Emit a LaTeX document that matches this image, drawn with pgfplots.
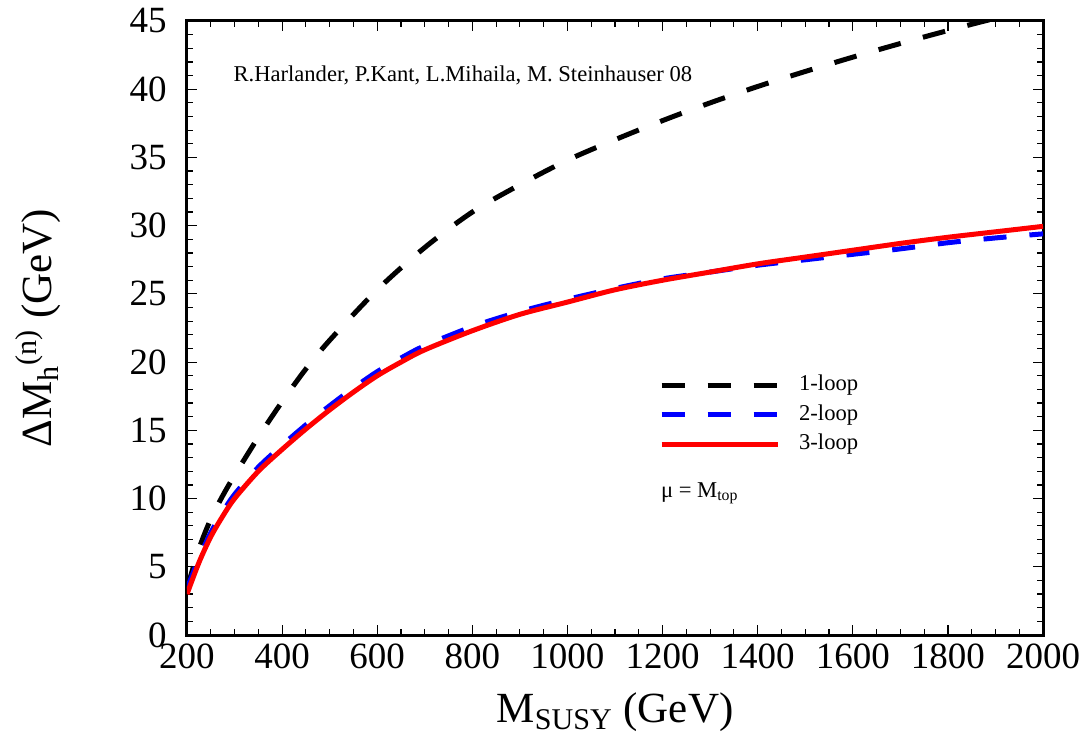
\documentclass[border=0pt]{standalone}
\usepackage{fontspec}
\setmainfont{Liberation Serif}
\usepackage{pgfplots}
\pgfplotsset{compat=1.18}
\begin{document}
\begin{tikzpicture}
\begin{axis}[
  scale only axis, width=428pt, height=307pt,
  xmin=200, xmax=2000, ymin=0, ymax=45,
  xtick={200,400,...,2000}, ytick={0,5,...,45},
  minor x tick num=3, minor y tick num=4,
  tick align=inside, major tick length=5pt, minor tick length=3pt,
  every tick/.style={black, line width=0.6pt},
  axis line style={line width=1.5pt},
  /pgf/number format/assume math mode=true,
  /pgf/number format/1000 sep={},
  tick label style={font=\rmfamily\fontsize{18.5}{21}\selectfont},
  xticklabel style={inner sep=0pt, yshift=-4pt},
  yticklabel style={inner sep=0pt, xshift=-10pt},
  xlabel={M\textsubscript{SUSY} (GeV)},
  ylabel={ΔM\textsubscript{h}\textsuperscript{(n)} (GeV)},
  label style={font=\rmfamily\fontsize{21.5}{24}\selectfont},
  xlabel style={at={(axis description cs:0.5,-0.1433)}, anchor=base},
  ylabel style={at={(axis description cs:-0.174,0.5)}, anchor=center},
  clip=true,
  legend cell align=left,
  legend image code/.code={\draw[#1] (0pt,0pt) -- (58pt,0pt);},
  legend style={draw=none, fill=none, at={(axis cs:1192,19.1)}, anchor=north west,
    inner sep=0pt, row sep=4.25pt, font=\rmfamily\fontsize{11.3}{13}\selectfont,
    nodes={inner sep=0pt, text height=8pt, text depth=2.5pt},
    column sep=9.5pt},
]
\addplot[black, line width=2.5pt, dash pattern=on 11.5pt off 11.5pt, smooth] coordinates {
(200,3.4) (225,6.3) (250,8.5) (275,10.2) (300,11.7) (350,14.5) (400,17.1) (450,19.5) (500,21.6)
(600,25.3) (700,28.4) (800,31.0) (900,33.0) (1000,34.8) (1100,36.3) (1200,37.7)
(1300,39.0) (1400,40.2) (1500,41.3) (1600,42.35) (1700,43.35) (1800,44.3) (1900,45.2) (2000,46.0)};
\addlegendentry{1-loop}
\addplot[blue, line width=2.5pt, dash pattern=on 11.5pt off 11.5pt, smooth] coordinates {
(200,3.4) (225,5.6) (250,7.5) (275,9.0) (300,10.3) (350,12.3) (400,13.9) (450,15.4) (500,16.8)
(550,18.1) (600,19.3) (650,20.3) (700,21.2) (800,22.6) (900,23.7) (1000,24.6) (1100,25.4) (1200,26.1)
(1300,26.6) (1400,27.1) (1500,27.5) (1600,27.9) (1700,28.3) (1800,28.75) (1900,29.1) (2000,29.4)};
\addlegendentry{2-loop}
\addplot[red, line width=2.5pt, smooth] coordinates {
(200,3.0) (225,5.3) (250,7.2) (275,8.7) (300,10.0) (350,12.0) (400,13.6) (450,15.1) (500,16.5)
(550,17.8) (600,19.0) (650,20.0) (700,20.9) (800,22.3) (900,23.5) (1000,24.4) (1100,25.3) (1200,26.0)
(1300,26.6) (1400,27.2) (1500,27.7) (1600,28.2) (1700,28.7) (1800,29.15) (1900,29.55) (2000,29.95)};
\addlegendentry{3-loop}
\node[anchor=west, inner sep=0pt, font=\rmfamily\fontsize{11.3}{13}\selectfont] at (axis cs:297,41.0)
  {R.Harlander, P.Kant, L.Mihaila, M. Steinhauser 08};
\node[anchor=west, inner sep=0pt, font=\rmfamily\fontsize{11.3}{13}\selectfont] at (axis cs:1196,10.4)
  {μ = M\textsubscript{top}};
\end{axis}
\path (current axis.south west) ++(-93.5pt,-52pt) coordinate (bbA);
\path (current axis.north east) ++(20.5pt,10.5pt) coordinate (bbB);
\path (bbA) rectangle (bbB);
\end{tikzpicture}
\end{document}
